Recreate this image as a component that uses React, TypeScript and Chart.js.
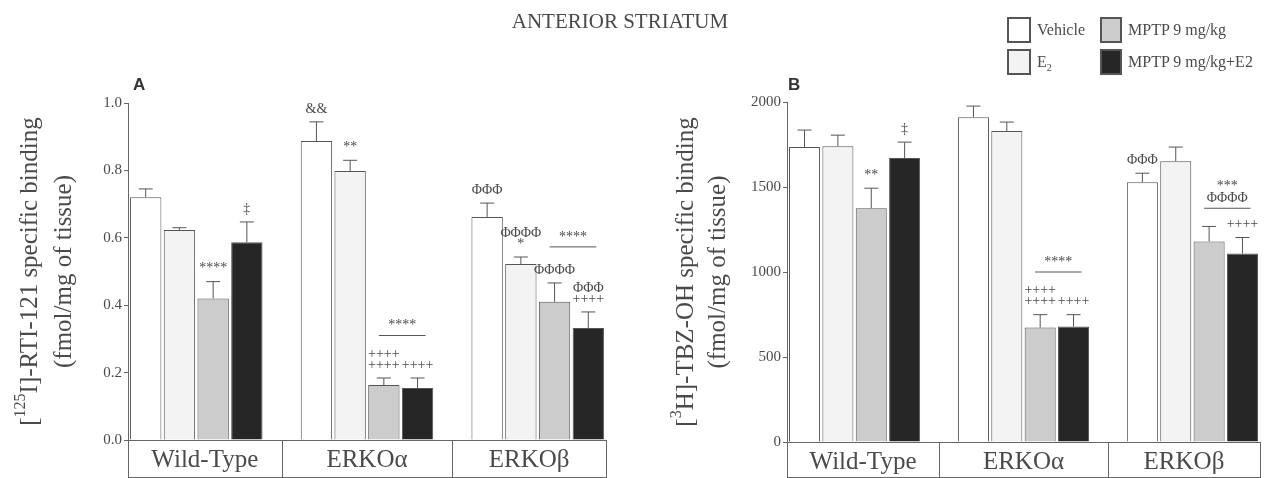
import React, { useEffect, useRef } from "react";
import { Chart, registerables } from "chart.js";
Chart.register(...registerables);

// ---------- shared data ----------
const groups = ["Wild-Type", "ERKOα", "ERKOβ"];
const seriesNames = ["Vehicle", "E2", "MPTP 9 mg/kg", "MPTP 9 mg/kg+E2"];

// ---------- Panel A: [125I]-RTI-121 specific binding ----------
const aVehicle = [0.72, 0.887, 0.662];
const aE2 = [0.623, 0.798, 0.522];
const aMptp = [0.42, 0.163, 0.41];
const aMptpE2 = [0.587, 0.154, 0.332];
const aVehicleErr = [0.745, 0.944, 0.703];
const aE2Err = [0.63, 0.83, 0.543];
const aMptpErr = [0.47, 0.184, 0.466];
const aMptpE2Err = [0.647, 0.184, 0.38];
const aTicks = [0, 0.2, 0.4, 0.6, 0.8, 1.0];
const aVehicleMarks = [[], ["&&"], ["ΦΦΦ"]];
const aE2Marks = [[], ["**"], ["ΦΦΦΦ", "*"]];
const aMptpMarks = [["****"], ["++++", "++++"], ["ΦΦΦΦ"]];
const aMptpE2Marks = [["‡"], ["++++"], ["ΦΦΦ", "++++"]];
const aBrackets = [
  { group: 1, from: 2, to: 3, level: 0.31, marks: ["****"] },
  { group: 2, from: 2, to: 3, level: 0.573, marks: ["****"] },
];

// ---------- Panel B: [3H]-TBZ-OH specific binding ----------
const bVehicle = [1735, 1911, 1528];
const bE2 = [1740, 1829, 1652];
const bMptp = [1375, 673, 1180];
const bMptpE2 = [1670, 679, 1109];
const bVehicleErr = [1835, 1976, 1581];
const bE2Err = [1805, 1882, 1735];
const bMptpErr = [1493, 749, 1268];
const bMptpE2Err = [1764, 749, 1203];
const bTicks = [0, 500, 1000, 1500, 2000];
const bVehicleMarks = [[], [], ["ΦΦΦ"]];
const bE2Marks = [[], [], []];
const bMptpMarks = [["**"], ["++++", "++++"], []];
const bMptpE2Marks = [["‡"], ["++++"], ["++++"]];
const bBrackets = [
  { group: 1, from: 2, to: 3, level: 1000, marks: ["****"] },
  { group: 2, from: 2, to: 3, level: 1375, marks: ["***", "ΦΦΦΦ"] },
];

// ---------- styles ----------
const fills = ["#ffffff", "#f3f3f3", "#cccccc", "#262626"];
const INK = "#4a4a4a";
const SERIF = "'Liberation Serif', 'Times New Roman', serif";

type Seg = { t: string; sup?: boolean };
type PanelSpec = {
  values: number[][];
  errs: number[][];
  marks: string[][][];
  brackets: { group: number; from: number; to: number; level: number; marks: string[] }[];
  ticks: number[];
  yMax: number;
  fmt: (v: number) => string;
  titleLines: Seg[][];
  titleX: number[];
  yAxisWidth: number;
  padTop: number;
  padRight: number;
  xAxisHeight: number;
};

function drawSegs(ctx: CanvasRenderingContext2D, segs: Seg[], size: number) {
  const supSize = Math.round(size * 0.62);
  let total = 0;
  const widths = segs.map((s) => {
    ctx.font = `${s.sup ? supSize : size}px ${SERIF}`;
    const w = ctx.measureText(s.t).width;
    total += w;
    return w;
  });
  let x = -total / 2;
  segs.forEach((s, i) => {
    ctx.font = `${s.sup ? supSize : size}px ${SERIF}`;
    ctx.fillText(s.t, x, s.sup ? -size * 0.38 : 0);
    x += widths[i];
  });
}

function makeChart(canvas: HTMLCanvasElement, p: PanelSpec) {
  const datasets = seriesNames.map((name, s) => ({
    label: name,
    data: groups.map((_, g) => ({ x: g, y: p.values[s][g] })),
    backgroundColor: fills[s],
    borderColor: "#555",
    borderWidth: 1,
    categoryPercentage: 0.79,
    barPercentage: 0.93,
  }));

  const decor = {
    id: "decor",
    afterDatasetsDraw(chart: any) {
      const ctx = chart.ctx as CanvasRenderingContext2D;
      const ys = chart.scales.y;
      ctx.save();
      ctx.strokeStyle = "#555";
      ctx.lineWidth = 1;
      ctx.fillStyle = INK;
      ctx.textAlign = "center";
      ctx.textBaseline = "middle";
      ctx.font = `14px ${SERIF}`;
      for (let s = 0; s < seriesNames.length; s++) {
        const meta = chart.getDatasetMeta(s);
        meta.data.forEach((bar: any, g: number) => {
          const top = bar.y;
          const ey = ys.getPixelForValue(p.errs[s][g]);
          ctx.beginPath();
          ctx.moveTo(bar.x, top);
          ctx.lineTo(bar.x, ey);
          ctx.moveTo(bar.x - 7, ey);
          ctx.lineTo(bar.x + 7, ey);
          ctx.stroke();
          const lines = p.marks[s][g];
          const n = lines.length;
          lines.forEach((txt, i) => {
            ctx.fillText(txt, bar.x, ey - 13 - (n - 1 - i) * 11);
          });
        });
      }
      p.brackets.forEach((b) => {
        const b1 = chart.getDatasetMeta(b.from).data[b.group];
        const b2 = chart.getDatasetMeta(b.to).data[b.group];
        const y = ys.getPixelForValue(b.level);
        const x1 = b1.x - 5;
        const x2 = b2.x + 8;
        ctx.beginPath();
        ctx.moveTo(x1, y);
        ctx.lineTo(x2, y);
        ctx.stroke();
        const n = b.marks.length;
        b.marks.forEach((txt, i) => {
          ctx.fillText(txt, (x1 + x2) / 2, y - 10 - (n - 1 - i) * 12);
        });
      });
      ctx.restore();
    },
    afterDraw(chart: any) {
      const ctx = chart.ctx as CanvasRenderingContext2D;
      const area = chart.chartArea;
      const xs = chart.scales.x;
      ctx.save();
      // category boxes under the axis
      const bottom = chart.height - 1;
      ctx.strokeStyle = "#666";
      ctx.lineWidth = 1;
      ctx.beginPath();
      ctx.moveTo(area.left, area.bottom + 0.5);
      ctx.lineTo(area.right, area.bottom + 0.5);
      ctx.moveTo(area.left, bottom + 0.5);
      ctx.lineTo(area.right, bottom + 0.5);
      const edges = [xs.min, ...groups.slice(1).map((_, i) => i + 0.5), xs.max];
      edges.forEach((v) => {
        const x = Math.round(xs.getPixelForValue(v)) + 0.5;
        ctx.moveTo(x, area.bottom);
        ctx.lineTo(x, bottom + 1);
      });
      ctx.stroke();
      ctx.fillStyle = INK;
      ctx.textAlign = "center";
      ctx.textBaseline = "alphabetic";
      ctx.font = `25px ${SERIF}`;
      groups.forEach((g, i) => {
        const cx = (xs.getPixelForValue(edges[i]) + xs.getPixelForValue(edges[i + 1])) / 2;
        ctx.fillText(g, cx, area.bottom + 27);
      });
      // y-axis title
      const midY = (area.top + area.bottom) / 2;
      p.titleLines.forEach((segs, i) => {
        ctx.save();
        ctx.translate(p.titleX[i], midY);
        ctx.rotate(-Math.PI / 2);
        ctx.textAlign = "left";
        ctx.textBaseline = "middle";
        drawSegs(ctx, segs, 25);
        ctx.restore();
      });
      ctx.restore();
    },
  };

  return new Chart(canvas, {
    type: "bar",
    data: { datasets } as any,
    options: {
      responsive: false,
      animation: false,
      layout: { padding: { top: p.padTop, right: p.padRight, left: 0, bottom: 0 } },
      plugins: { legend: { display: false }, tooltip: { enabled: false } },
      scales: {
        x: {
          type: "linear",
          min: -0.4,
          max: 2.4,
          offset: false,
          bounds: "data",
          afterBuildTicks: (s: any) => {
            s.ticks = groups.map((_, i) => ({ value: i }));
          },
          afterFit: (s: any) => {
            s.height = p.xAxisHeight;
          },
          ticks: { display: false },
          grid: { display: false },
          border: { display: false },
        },
        y: {
          type: "linear",
          min: 0,
          max: p.yMax,
          afterBuildTicks: (s: any) => {
            s.ticks = p.ticks.map((v) => ({ value: v }));
          },
          afterFit: (s: any) => {
            s.width = p.yAxisWidth;
          },
          ticks: {
            callback: (v: any) => p.fmt(Number(v)),
            font: { family: SERIF, size: 15 },
            color: INK,
            padding: 2,
          },
          grid: { drawOnChartArea: false, tickLength: 4, color: "#666" },
          border: { color: "#666", width: 1 },
        },
      },
    } as any,
    plugins: [decor],
  });
}

const panelA: PanelSpec = {
  values: [aVehicle, aE2, aMptp, aMptpE2],
  errs: [aVehicleErr, aE2Err, aMptpErr, aMptpE2Err],
  marks: [aVehicleMarks, aE2Marks, aMptpMarks, aMptpE2Marks],
  brackets: aBrackets,
  ticks: aTicks,
  yMax: 1.0,
  fmt: (v) => v.toFixed(1),
  titleLines: [
    [{ t: "[" }, { t: "125", sup: true }, { t: "I]-RTI-121 specific binding" }],
    [{ t: "(fmol/mg of tissue)" }],
  ],
  titleX: [30, 64],
  yAxisWidth: 128,
  padTop: 103,
  padRight: 34,
  xAxisHeight: 38,
};

const panelB: PanelSpec = {
  values: [bVehicle, bE2, bMptp, bMptpE2],
  errs: [bVehicleErr, bE2Err, bMptpErr, bMptpE2Err],
  marks: [bVehicleMarks, bE2Marks, bMptpMarks, bMptpE2Marks],
  brackets: bBrackets,
  ticks: bTicks,
  yMax: 2000,
  fmt: (v) => String(v),
  titleLines: [
    [{ t: "[" }, { t: "3", sup: true }, { t: "H]-TBZ-OH specific binding" }],
    [{ t: "(fmol/mg of tissue)" }],
  ],
  titleX: [46, 78],
  yAxisWidth: 147,
  padTop: 102,
  padRight: 17,
  xAxisHeight: 36,
};

const legendItems = [
  { label: <>Vehicle</>, fill: fills[0], left: 1007, top: 17, w: 24 },
  { label: <>E<sub style={{ fontSize: 10 }}>2</sub></>, fill: fills[1], left: 1007, top: 49, w: 24 },
  { label: <>MPTP 9 mg/kg</>, fill: fills[2], left: 1100, top: 17, w: 22 },
  { label: <>MPTP 9 mg/kg+E2</>, fill: fills[3], left: 1100, top: 49, w: 22 },
];

export default function App() {
  const refA = useRef<HTMLCanvasElement>(null);
  const refB = useRef<HTMLCanvasElement>(null);
  useEffect(() => {
    const ca = makeChart(refA.current!, panelA);
    const cb = makeChart(refB.current!, panelB);
    return () => {
      ca.destroy();
      cb.destroy();
    };
  }, []);
  return (
    <div style={{ position: "fixed", left: 0, top: 0, width: 1277, height: 478, background: "#fff", overflow: "hidden", fontFamily: SERIF, color: INK }}>
      <canvas ref={refA} width={640} height={478} style={{ position: "absolute", left: 0, top: 0, display: "block" }} />
      <canvas ref={refB} width={637} height={478} style={{ position: "absolute", left: 640, top: 0, display: "block" }} />
      <div style={{ position: "absolute", left: 0, width: 1240, top: 8, textAlign: "center", fontSize: 21, lineHeight: "26px" }}>ANTERIOR STRIATUM</div>
      <div style={{ position: "absolute", left: 133, top: 75, fontFamily: "'Liberation Sans', Arial, sans-serif", fontWeight: "bold", fontSize: 17, color: "#333" }}>A</div>
      <div style={{ position: "absolute", left: 788, top: 75, fontFamily: "'Liberation Sans', Arial, sans-serif", fontWeight: "bold", fontSize: 17, color: "#333" }}>B</div>
      {legendItems.map((it, i) => (
        <div key={i}>
          <div style={{ position: "absolute", left: it.left, top: it.top, width: it.w - 4, height: 22, border: "2px solid #555", background: it.fill }} />
          <div style={{ position: "absolute", left: it.left + it.w + 6, top: it.top + 2, fontSize: 16, lineHeight: "22px", whiteSpace: "nowrap" }}>{it.label}</div>
        </div>
      ))}
    </div>
  );
}
